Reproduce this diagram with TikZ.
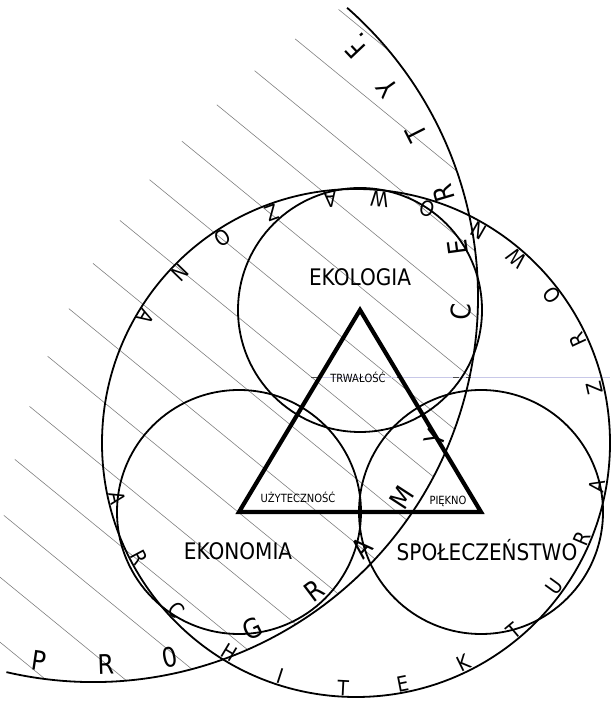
\documentclass[tikz,border=0pt]{standalone}
\usepackage{fontspec}
\setmainfont{DejaVu Sans}[FakeStretch=0.88]
\begin{document}
\begin{tikzpicture}[x=1pt,y=1pt,
  circ/.style={draw=black, line width=1.8pt},
  tri/.style={draw=black, line width=4.2pt, line join=miter},
  hatch/.style={draw=black!50, line width=0.6pt},
  guide/.style={draw={rgb,255:red,200;green,200;blue,232}, line width=0.8pt},
  tick/.style={draw=black!70, line width=0.8pt},
  mainlbl/.style={font=\fontsize{22.8}{22.8}\selectfont, inner sep=0pt, text height=16.6pt, text depth=0pt},
  smalllbl/.style={font=\fontsize{11.3}{11.3}\selectfont, inner sep=0pt, text height=8.2pt, text depth=0pt},
  bletter/.style={font=\fontsize{21}{21}\selectfont, inner sep=0pt, text height=15.3pt, text depth=0pt},
  cletter/.style={font=\fontsize{27}{27}\selectfont, inner sep=0pt, text height=19.7pt, text depth=0pt},
]
\useasboundingbox (0,0) rectangle (610,703);

% centres
\coordinate (cB) at (356,260);
\coordinate (cC) at (93,406);
\coordinate (cH) at (725,74);
\coordinate (vA) at (360,393);
\coordinate (vL) at (239,191);
\coordinate (vR) at (481,191);

% hatching
\begin{scope}
  \clip (cC) circle[radius=385];
  \clip (cH) circle[radius=730];
  \foreach \k in {-16,...,16} {
    \pgfmathsetmacro{\n}{499.8+50.3*\k}
    \draw[hatch] ({0.633*\n-0.774*1200},{0.774*\n+0.633*1200}) -- ({0.633*\n+0.774*1200},{0.774*\n-0.633*1200});
  }
\end{scope}

% guide line through TRWALOSC
\coordinate (g1) at (318,326);
\coordinate (g2) at (610,326);
\draw[guide] (g1) -- (g2);
\draw[tick] (311,326) -- (318,326);
\draw[tick] (397,326) -- (402,326);
\draw[tick] (453,326) -- (459,326);
\draw[tick] (466,326) -- (471,326);

% big arc and circles
\draw[circ] (cC) ++(257:385) arc[start angle=257, end angle=408.7, radius=385];
\draw[circ] (cB) circle[radius=254];
\draw[circ] (vA) circle[radius=122];
\draw[circ] (vL) circle[radius=122];
\draw[circ] (vR) circle[radius=122];

% triangle
\draw[tri] (vA) -- (vL) -- (vR) -- cycle;

% labels
\node[mainlbl] (ekol) at (360,426) {EKOLOGIA};
\node[mainlbl] (ekon) at (238,152) {EKONOMIA};
\node[mainlbl] (spol) at (487,151) {SPOŁECZEŃSTWO};
\node[smalllbl] (trw) at (358,325) {TRWAŁOŚĆ};
\node[smalllbl] (uzy) at (298,205) {UŻYTECZNOŚĆ};
\node[smalllbl] (pie) at (448,203) {PIĘKNO};

% ARCHITEKTURA ZROWNOWAZONA
\foreach \a/\ch [count=\i] in {193/A,208/R,223/C,239/H,252/I,267/T,281/E,296/K,310/T,324/U,337/R,350/A,
  13/Z,25/R,37/O,49/W,60/N,73/O,84.5/W,96/A,110/Z,123/O,136/N,149/A} {
  \node[bletter, rotate=\a+90] (b\i) at ([shift={(\a:245)}]cB) {\ch};
}

% PROGRAMY CERTYF.
\foreach \a/\r/\ch [count=\i] in {261.5/368/P,272/368/R,282/368/0,295.7/368/G,307/368/R,317/368/A,327/368/M,337.6/370/Y,
  357.7/368/C,7.7/368/E,16.5/366/R,26.8/362/T,35.4/361/Y,43.4/361/F} {
  \node[cletter, rotate=\a+90] (c\i) at ([shift={(\a:\r)}]cC) {\ch};
}
\node[cletter, rotate=132, inner sep=0pt, text height=3pt] (cdot) at (362,668) {.};
\end{tikzpicture}
\end{document}
